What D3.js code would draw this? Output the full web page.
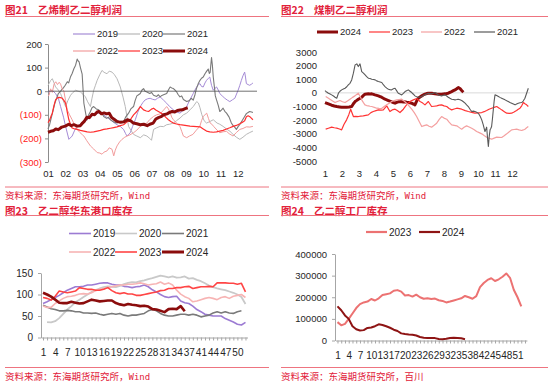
<!DOCTYPE html>
<html>
<head>
<meta charset="utf-8">
<script src="https://cdn.jsdelivr.net/npm/d3@7"></script>
<style>
  body { margin: 0; background: #fff; }
  svg { display: block; }
</style>
</head>
<body>
<svg width="550" height="388"></svg>
<script>
// 图21 乙烯制乙二醇利润: [月份位置, 利润]
let p1Months = ['01','02','03','04','05','06','07','08','09','10','11','12'];
let p1Ticks = [-300, -200, -100, 0, 100, 200];
let p1Years = ['2019','2020','2021','2022','2023','2024'];

let p1y2019 = [[1.0,-3],[1.25,4],[1.44,-10],[1.6,-30],[1.73,-65],[1.9,-110],[2.02,-149],[2.21,-204],[2.4,-190],[2.55,-165],[2.69,-149],[2.85,-140],[2.98,-135],[3.15,-128],[3.27,-121],[3.45,-110],[3.65,-100],[3.8,-96],[3.94,-93],[4.1,-97],[4.23,-100],[4.4,-110],[4.62,-121],[4.8,-132],[5.0,-142],[5.2,-150],[5.38,-162],[5.5,-180],[5.58,-190],[5.68,-182],[5.77,-176],[5.9,-150],[6.06,-121],[6.2,-90],[6.35,-65],[6.5,-48],[6.63,-37],[6.78,-32],[6.92,-30],[7.05,-34],[7.21,-37],[7.35,-30],[7.5,-24],[7.7,-38],[7.88,-51],[8.05,-65],[8.27,-79],[8.45,-88],[8.65,-93],[8.85,-80],[9.04,-65],[9.2,-40],[9.42,-10],[9.52,5],[9.62,18],[9.72,28],[9.81,32],[9.9,20],[10.0,18],[10.1,35],[10.19,46],[10.3,55],[10.38,60],[10.48,25],[10.58,4],[10.68,12],[10.77,18],[10.87,5],[10.96,-10],[11.1,-20],[11.25,-30],[11.4,-38],[11.54,-44],[11.7,-36],[11.83,-30],[11.93,-12],[12.02,4],[12.12,25],[12.21,46],[12.3,65],[12.4,81],[12.45,60],[12.5,32],[12.6,28],[12.69,25],[12.8,30],[12.88,35]];
let p1y2020 = [[1.0,25],[1.06,32],[1.15,45],[1.25,53],[1.35,35],[1.44,18],[1.6,5],[1.73,-10],[1.88,-40],[2.02,-65],[2.15,-40],[2.31,-17],[2.45,-5],[2.6,4],[2.75,0],[2.88,-3],[3.05,-15],[3.17,-24],[3.3,-45],[3.46,-65],[3.55,-30],[3.65,4],[3.75,25],[3.85,46],[4.0,70],[4.13,88],[4.25,80],[4.42,74],[4.55,85],[4.71,81],[4.85,70],[5.0,53],[5.1,35],[5.19,18],[5.35,-25],[5.48,-65],[5.58,-110],[5.67,-149],[5.8,-165],[5.96,-183],[6.15,-190],[6.35,-197],[6.55,-185],[6.73,-190],[6.9,-200],[7.0,-208],[7.12,-162],[7.3,-155],[7.5,-149],[7.7,-150],[7.88,-142],[8.05,-140],[8.27,-135],[8.45,-125],[8.65,-114],[8.85,-100],[9.04,-93],[9.23,-79],[9.42,-65],[9.62,-44],[9.72,-50],[9.81,-70],[9.92,-100],[10.05,-125],[10.19,-135],[10.4,-128],[10.58,-121],[10.8,-135],[10.96,-140],[11.15,-149],[11.35,-160],[11.55,-170],[11.73,-183],[11.92,-195],[12.12,-204],[12.3,-195],[12.5,-183],[12.7,-175],[12.88,-169]];
let p1y2021 = [[1.0,-160],[1.1,-140],[1.2,-110],[1.3,-80],[1.4,-50],[1.5,-30],[1.6,-10],[1.73,0],[1.9,15],[2.0,25],[2.12,40],[2.2,35],[2.3,60],[2.4,75],[2.5,95],[2.6,110],[2.69,136],[2.75,128],[2.8,125],[2.88,100],[2.98,72],[3.03,10],[3.08,-51],[3.15,-80],[3.2,-100],[3.27,-121],[3.36,-100],[3.46,-86],[3.55,-70],[3.65,-65],[3.8,-75],[3.94,-79],[4.1,-90],[4.23,-107],[4.4,-115],[4.5,-110],[4.62,-121],[4.8,-130],[5.0,-135],[5.2,-128],[5.38,-128],[5.5,-110],[5.67,-93],[5.8,-75],[5.96,-65],[6.05,-40],[6.15,-20],[6.25,-15],[6.35,-10],[6.45,5],[6.54,11],[6.63,0],[6.73,-3],[6.9,-10],[7.0,-5],[7.12,-17],[7.3,-22],[7.4,-15],[7.5,-24],[7.6,-18],[7.7,-15],[7.88,-10],[7.98,5],[8.08,18],[8.17,14],[8.27,11],[8.36,5],[8.46,-3],[8.55,-15],[8.65,-24],[8.75,-20],[8.85,-35],[9.04,-44],[9.2,-40],[9.3,-30],[9.42,-38],[9.52,-15],[9.6,10],[9.7,30],[9.81,46],[9.9,55],[10.0,60],[10.1,74],[10.2,85],[10.29,94],[10.35,75],[10.4,80],[10.45,120],[10.48,143],[10.53,110],[10.58,60],[10.65,15],[10.7,-20],[10.77,-37],[10.87,-60],[10.96,-86],[11.05,-80],[11.15,-72],[11.25,-85],[11.35,-93],[11.5,-110],[11.63,-135],[11.72,-145],[11.8,-150],[11.92,-162],[12.02,-150],[12.12,-141],[12.25,-125],[12.4,-107],[12.5,-95],[12.6,-90],[12.69,-86],[12.8,-88],[12.88,-90]];
let p1y2022 = [[1.0,-20],[1.06,-17],[1.15,10],[1.25,-5],[1.35,30],[1.45,40],[1.55,28],[1.65,38],[1.73,30],[1.82,10],[1.92,0],[2.02,-40],[2.12,-80],[2.25,-100],[2.4,-121],[2.55,-145],[2.69,-162],[2.85,-175],[3.0,-185],[3.08,-190],[3.25,-210],[3.46,-232],[3.65,-245],[3.85,-260],[4.0,-262],[4.13,-267],[4.25,-258],[4.42,-253],[4.55,-240],[4.71,-246],[4.81,-274],[4.9,-250],[5.0,-232],[5.15,-215],[5.29,-204],[5.45,-195],[5.58,-190],[5.75,-185],[5.96,-176],[6.15,-165],[6.35,-149],[6.55,-140],[6.73,-135],[6.9,-120],[7.12,-107],[7.3,-100],[7.5,-96],[7.7,-80],[7.88,-65],[7.98,-75],[8.08,-90],[8.17,-110],[8.27,-121],[8.45,-135],[8.65,-149],[8.75,-170],[8.85,-190],[9.04,-197],[9.2,-190],[9.4,-183],[9.6,-165],[9.8,-149],[9.9,-125],[10.0,-107],[10.1,-100],[10.2,-93],[10.3,-115],[10.4,-135],[10.5,-140],[10.6,-149],[10.8,-165],[10.96,-176],[11.15,-172],[11.35,-170],[11.5,-180],[11.73,-190],[11.92,-175],[12.12,-162],[12.3,-158],[12.5,-151],[12.7,-152],[12.88,-149]];
let p1y2023 = [[1.0,-133],[1.08,-125],[1.18,-105],[1.25,-93],[1.35,-60],[1.44,-37],[1.55,-28],[1.63,-26],[1.73,-27],[1.83,-30],[1.93,-40],[2.02,-51],[2.12,-90],[2.21,-121],[2.3,-140],[2.4,-156],[2.55,-160],[2.69,-162],[2.88,-166],[3.08,-169],[3.27,-172],[3.46,-174],[3.65,-172],[3.85,-169],[4.04,-166],[4.23,-162],[4.42,-160],[4.62,-157],[4.81,-154],[5.0,-151],[5.2,-146],[5.38,-142],[5.55,-132],[5.77,-121],[5.96,-100],[6.15,-86],[6.35,-65],[6.54,-79],[6.7,-84],[6.83,-86],[7.0,-76],[7.12,-72],[7.25,-80],[7.4,-86],[7.55,-92],[7.69,-100],[7.85,-112],[7.98,-121],[8.12,-128],[8.27,-135],[8.45,-139],[8.65,-142],[8.85,-144],[9.04,-146],[9.23,-148],[9.42,-149],[9.62,-150],[9.81,-151],[10.0,-160],[10.19,-169],[10.38,-172],[10.58,-174],[10.77,-172],[10.96,-169],[11.15,-166],[11.35,-160],[11.54,-155],[11.73,-149],[11.92,-145],[12.12,-138],[12.31,-130],[12.4,-125],[12.5,-108],[12.6,-104],[12.7,-108],[12.8,-115],[12.88,-121]];
let p1y2024 = [[1.0,-174],[1.15,-170],[1.3,-168],[1.45,-160],[1.6,-163],[1.8,-152],[2.0,-148],[2.2,-140],[2.35,-146],[2.5,-142],[2.7,-148],[2.88,-146],[3.0,-135],[3.1,-128],[3.25,-110],[3.4,-112],[3.55,-98],[3.7,-100],[3.85,-88],[3.95,-86],[4.1,-96],[4.25,-92],[4.4,-96],[4.55,-93],[4.7,-112],[4.85,-120],[5.0,-128],[5.2,-132],[5.4,-130],[5.6,-121],[5.8,-126],[5.95,-135],[6.15,-138],[6.35,-142],[6.55,-140],[6.75,-146],[6.9,-140],[7.1,-135],[7.25,-118],[7.4,-112],[7.55,-108],[7.7,-100],[7.9,-96],[8.05,-90],[8.2,-86],[8.35,-88],[8.5,-82],[8.65,-80],[8.8,-79],[8.95,-74],[9.1,-70]];

// 图22 煤制乙二醇利润: [月份位置, 利润]
let p2Months = ['1','2','3','4','5','6','7','8','9','10','11','12'];
let p2Ticks = [-5000, -4000, -3000, -2000, -1000, 0, 1000, 2000, 3000];
let p2Years = ['2024','2023','2022','2021'];

let p2y2024 = [[1.0,-709],[1.2,-807],[1.39,-905],[1.55,-960],[1.69,-1002],[1.85,-1030],[1.98,-1051],[2.15,-1060],[2.27,-1051],[2.42,-1040],[2.57,-1002],[2.67,-800],[2.77,-636],[2.87,-550],[2.96,-465],[3.06,-400],[3.16,-318],[3.25,-200],[3.35,-98],[3.45,-80],[3.55,-73],[3.65,-75],[3.75,-73],[3.85,-110],[3.94,-147],[4.04,-180],[4.14,-220],[4.24,-270],[4.33,-318],[4.43,-390],[4.53,-465],[4.63,-510],[4.73,-562],[4.82,-610],[4.92,-660],[5.02,-710],[5.12,-758],[5.22,-700],[5.31,-660],[5.41,-650],[5.51,-660],[5.61,-670],[5.71,-660],[5.8,-690],[5.9,-709],[6.0,-730],[6.1,-758],[6.2,-820],[6.29,-880],[6.39,-600],[6.49,-391],[6.59,-300],[6.69,-220],[6.78,-150],[6.88,-98],[6.98,-50],[7.08,-24],[7.18,-20],[7.27,-24],[7.37,-50],[7.47,-73],[7.57,-90],[7.67,-98],[7.76,-95],[7.86,-98],[7.96,-80],[8.06,-73],[8.16,-50],[8.25,-24],[8.35,40],[8.45,98],[8.55,160],[8.65,220],[8.75,300],[8.84,391],[8.94,318],[9.04,171],[9.14,49]];
let p2y2023 = [[1.04,-2665],[1.2,-2600],[1.39,-2518],[1.55,-2560],[1.69,-2592],[1.85,-2650],[1.98,-2714],[2.12,-2300],[2.27,-1980],[2.4,-1600],[2.51,-1198],[2.67,-1736],[2.8,-1720],[2.96,-1736],[3.1,-1700],[3.25,-1687],[3.4,-1650],[3.55,-1614],[3.7,-1450],[3.84,-1369],[4.0,-1300],[4.14,-1247],[4.3,-1260],[4.43,-1247],[4.63,-954],[4.82,-1369],[4.95,-1250],[5.12,-1198],[5.25,-1300],[5.41,-1443],[5.61,-1198],[5.75,-950],[5.9,-758],[6.05,-600],[6.2,-513],[6.39,-416],[6.59,-636],[6.75,-750],[6.88,-880],[7.08,-636],[7.27,-1002],[7.42,-980],[7.57,-954],[7.72,-900],[7.86,-880],[8.0,-950],[8.16,-1002],[8.3,-1150],[8.45,-1247],[8.6,-1180],[8.75,-1125],[8.9,-1160],[9.04,-1198],[9.25,-1300],[9.43,-1369],[9.63,-1430],[9.82,-1491],[10.02,-1470],[10.22,-1443],[10.36,-1380],[10.51,-1296],[10.65,-1200],[10.8,-1125],[10.95,-1060],[11.1,-1002],[11.25,-1120],[11.39,-1247],[11.55,-1380],[11.69,-1491],[11.84,-1500],[11.98,-1491],[12.12,-1400],[12.27,-1296],[12.37,-1200],[12.47,-1125],[12.57,-950],[12.67,-709],[12.76,-800],[12.86,-880],[12.96,-1002]];
let p2y2022 = [[1.04,-269],[1.16,-360],[1.29,-465],[1.45,-600],[1.59,-709],[1.73,-630],[1.88,-562],[2.03,-650],[2.18,-709],[2.32,-600],[2.47,-465],[2.62,-330],[2.76,-220],[2.86,-120],[2.96,-24],[3.06,-250],[3.16,-513],[3.25,-700],[3.35,-880],[3.45,-930],[3.55,-954],[3.65,-980],[3.75,-1002],[3.9,-1060],[4.04,-1125],[4.18,-1140],[4.33,-1149],[4.48,-1000],[4.63,-880],[4.78,-760],[4.92,-636],[5.07,-570],[5.22,-513],[5.36,-490],[5.51,-465],[5.65,-600],[5.8,-758],[5.95,-980],[6.1,-1198],[6.25,-1450],[6.39,-1736],[6.54,-2100],[6.69,-2469],[6.83,-2400],[6.98,-2347],[7.12,-2450],[7.27,-2518],[7.42,-2380],[7.57,-2225],[7.72,-1950],[7.86,-1736],[8.0,-1850],[8.16,-1932],[8.3,-2150],[8.45,-2347],[8.6,-2380],[8.75,-2421],[8.9,-2550],[9.04,-2665],[9.18,-2520],[9.33,-2421],[9.48,-2500],[9.63,-2592],[9.78,-2700],[9.92,-2836],[10.07,-2920],[10.22,-3007],[10.36,-3130],[10.51,-3252],[10.65,-3330],[10.8,-3399],[10.95,-3320],[11.1,-3252],[11.25,-3260],[11.39,-3276],[11.54,-3150],[11.69,-3007],[11.84,-2850],[11.98,-2714],[12.12,-2690],[12.27,-2665],[12.42,-2720],[12.57,-2763],[12.66,-2720],[12.76,-2665],[12.86,-2560],[12.96,-2469]];
let p2y2021 = [[1.0,171],[1.1,60],[1.2,-24],[1.3,-90],[1.39,-147],[1.5,-230],[1.59,-318],[1.69,-391],[1.79,-24],[1.88,120],[1.98,220],[2.08,280],[2.18,342],[2.28,450],[2.37,587],[2.47,700],[2.57,953],[2.67,1443],[2.77,2054],[2.87,2127],[2.96,1932],[3.06,2127],[3.16,1565],[3.26,1450],[3.36,1320],[3.45,1200],[3.55,1076],[3.65,1050],[3.75,1002],[3.85,980],[3.95,953],[4.04,880],[4.14,831],[4.24,800],[4.34,758],[4.43,600],[4.53,465],[4.63,350],[4.73,269],[4.82,240],[4.92,220],[5.02,300],[5.12,342],[5.22,150],[5.31,-24],[5.41,-90],[5.51,-147],[5.61,-30],[5.71,98],[5.8,160],[5.9,220],[6.0,120],[6.1,24],[6.2,-100],[6.29,-220],[6.39,-280],[6.49,-318],[6.59,-300],[6.69,-269],[6.78,-200],[6.88,-147],[6.98,-80],[7.08,-24],[7.18,-50],[7.27,-73],[7.37,-20],[7.47,24],[7.57,-60],[7.67,-147],[7.76,-190],[7.86,-220],[7.96,-180],[8.06,-147],[8.16,-230],[8.25,-318],[8.35,-400],[8.45,-465],[8.55,-490],[8.65,-513],[8.75,-490],[8.84,-465],[8.94,-510],[9.04,-562],[9.14,-650],[9.24,-758],[9.33,-880],[9.43,-1002],[9.53,-1200],[9.63,-1369],[9.73,-1340],[9.82,-1369],[9.92,-1430],[10.02,-1491],[10.12,-1700],[10.22,-1980],[10.31,-2347],[10.41,-2836],[10.51,-2518],[10.56,-3300],[10.61,-3936],[10.66,-3200],[10.71,-2714],[10.76,-2600],[10.8,-2469],[10.85,-1900],[10.9,-1247],[10.95,-600],[11.0,-147],[11.1,-200],[11.2,-269],[11.29,-330],[11.39,-391],[11.49,-450],[11.59,-513],[11.69,-580],[11.78,-636],[11.88,-700],[11.98,-758],[12.08,-820],[12.18,-880],[12.27,-820],[12.37,-758],[12.47,-730],[12.57,-709],[12.66,-600],[12.76,-391],[12.86,-24],[12.96,342]];

// 图23 乙二醇华东港口库存 (万吨), 按周
let p3Weeks = [1,2,3,4,5,6,7,8,9,10,11,12,13,14,15,16,17,18,19,20,21,22,23,24,25,26,27,28,29,30,31,32,33,34,35,36,37,39,40,41,42,43,44,45,46,47,48,49,50,51,52];
let p3Ticks = [0, 50, 100, 150];
let p3Years = ['2019','2020','2021','2022','2023','2024'];

let p3y2019 = [79,83,88,93,98,104,110,114,118,118,119,122,122,124,126,127,127,124,122,122,119,118,116,118,119,122,118,111,106,100,95,93,95,96,85,81,79,73,65,60,54,52,50,50,50,44,40,36,31,29,35];
let p3y2020 = [null,36,35,38,45,55,65,73,82,88,94,100,106,110,114,117,119,118,117,120,124,127,129,128,131,133,136,138,141,144,142,140,142,139,140,142,137,138,134,131,126,121,117,114,112,110,107,104,100,94,78];
let p3y2021 = [75,71,67,65,62,62,63,62,60,60,57,57,56,57,54,52,54,56,54,56,52,50,52,52,54,56,62,65,62,56,52,50,50,52,54,54,52,54,52,48,50,52,57,60,57,60,57,56,60,62,null];
let p3y2022 = [73,70,70,79,85,91,95,96,98,101,102,101,104,109,112,114,116,118,120,122,122,124,124,125,127,125,122,124,125,129,124,127,122,110,101,95,91,83,85,88,91,93,91,88,93,95,91,96,98,100,93];
let p3y2023 = [93,91,87,96,108,106,104,106,108,116,114,112,112,110,110,112,116,109,104,102,104,101,101,98,98,100,102,104,106,109,110,114,114,116,116,118,119,114,116,118,118,119,118,127,127,127,126,126,124,126,106];
let p3y2024 = [104,100,95,88,81,80,80,83,81,79,80,84,88,86,84,85,86,86,80,77,75,78,76,75,73,74,72,66,65,62,59,66,67,66,73,61];

// 图24 乙二醇工厂库存 (吨), 按周
let p4Weeks = [1,2,3,4,5,6,7,8,9,10,11,12,13,15,16,17,18,19,20,21,22,23,24,25,26,27,28,29,30,31,32,33,34,35,36,37,38,40,41,42,43,44,45,46,47,48,49,50,51,52,53];
let p4Ticks = [0, 100000, 200000, 300000, 400000];
let p4Years = ['2023','2024'];

let p4y2023 = [85000,70000,77000,100000,125000,150000,168000,176000,180000,192000,185000,195000,210000,214000,218000,230000,233000,226000,208000,210000,203000,212000,200000,193000,195000,192000,194000,186000,183000,176000,180000,185000,190000,195000,206000,200000,193000,205000,247000,266000,280000,288000,275000,283000,295000,310000,290000,235000,200000,158000];
let p4y2024 = [158000,140000,116000,100000,66000,52000,46000,48000,58000,60000,66000,75000,72000,66000,59000,50000,44000,33000,30000,28000,27000,23000,16000,13000,12000,12000,11000,7000,6000,8000,12000,13000,12000,10000,6000];

const red = '#e2213a';
const rule = '#ee7480';
const cjk = '"Noto Sans CJK SC", sans-serif';
const latin = '"Liberation Sans", Arial, sans-serif';

let svg = d3.select('svg');
svg.append('rect').attr('width', 550).attr('height', 388).attr('fill', '#fff');

// 标题 + 下划线
function header(x0, x1, y, ruleY, num, name) {
  svg.append('text')
    .attr('x', x0).attr('y', y)
    .attr('fill', red).attr('font-family', cjk).attr('font-weight', 'bold').attr('font-size', 10.5)
    .text(num);
  svg.append('text')
    .attr('x', x0 + 33).attr('y', y)
    .attr('fill', red).attr('font-family', cjk).attr('font-weight', 'bold').attr('font-size', 10.5)
    .text(name);
  svg.append('line')
    .attr('x1', x0).attr('x2', x1).attr('y1', ruleY).attr('y2', ruleY)
    .attr('stroke', rule).attr('stroke-width', 1);
}

// 资料来源
function footer(x0, x1, yRule, yText, who) {
  svg.append('line')
    .attr('x1', x0).attr('x2', x1).attr('y1', yRule).attr('y2', yRule)
    .attr('stroke', rule).attr('stroke-width', 1);
  let t = svg.append('text')
    .attr('x', x0).attr('y', yText)
    .attr('fill', red).attr('font-family', cjk).attr('font-size', 9.5);
  t.append('tspan').text('资料来源：东海期货研究所，');
  t.append('tspan')
    .attr('font-family', who === 'Wind' ? '"DejaVu Sans Mono", monospace' : cjk)
    .attr('font-size', who === 'Wind' ? 9 : 9.5)
    .text(who);
}

function legendItem(x, y, len, color, w, label, size) {
  svg.append('line')
    .attr('x1', x).attr('x2', x + len).attr('y1', y).attr('y2', y)
    .attr('stroke', color).attr('stroke-width', w);
  svg.append('text')
    .attr('x', x + len + 2).attr('y', y).attr('dy', '0.35em')
    .attr('font-family', latin).attr('font-size', size).attr('fill', '#262626')
    .text(label);
}

function styleAxis(g, size, color) {
  g.attr('font-family', latin).attr('font-size', size);
  g.selectAll('.tick text').attr('fill', color);
}

const plain = d => String(d);

// ---------------- 图21 ----------------
header(5, 269, 14, 16.5, '图21', '乙烯制乙二醇利润');

let p1x = d3.scaleLinear().domain([1, 13]).range([48, 255]);
let p1y = d3.scaleLinear().domain([-300, 200]).range([162, 44]);

let p1Colors = ['#a58bd6', '#b8b8b8', '#7a7a7a', '#f29c9c', '#ff2f2f', '#8b0c0c'];
let p1Widths = [1, 1, 1.1, 1, 1.2, 3];
let p1Series = [p1y2019, p1y2020, p1y2021, p1y2022, p1y2023, p1y2024];

let p1Left = svg.append('g')
  .attr('transform', 'translate(48,0)')
  .call(d3.axisLeft(p1y).tickValues(p1Ticks).tickSize(3).tickSizeOuter(0)
    .tickFormat(d => d < 0 ? `(${-d})` : String(d)));
styleAxis(p1Left, 9.5, '#262626');
p1Left.selectAll('.tick text').attr('fill', d => d < 0 ? '#ff2020' : '#262626');
p1Left.select('.domain').attr('stroke', '#8c8c8c');
p1Left.selectAll('.tick line').attr('stroke', '#8c8c8c');

let p1Bottom = svg.append('g')
  .attr('transform', 'translate(0,167.5)')
  .call(d3.axisBottom(p1x).tickValues(d3.range(1, 13)).tickSize(0)
    .tickFormat(d => p1Months[d - 1]));
p1Bottom.select('.domain').remove();
styleAxis(p1Bottom, 9.5, '#262626');

let p1Line = d3.line().x(d => p1x(d[0])).y(d => p1y(d[1]));
p1Series.forEach((s, i) => {
  svg.append('path')
    .attr('d', p1Line(s))
    .attr('fill', 'none')
    .attr('stroke', p1Colors[i])
    .attr('stroke-width', p1Widths[i])
    .attr('stroke-linejoin', 'round');
});

svg.append('line')
  .attr('x1', 48).attr('x2', 257).attr('y1', p1y(0)).attr('y2', p1y(0))
  .attr('stroke', '#4d4d4d').attr('stroke-width', 0.8);

[[73, 34], [118, 34], [163, 34], [73, 51], [118, 51], [163, 51]].forEach((p, i) => {
  legendItem(p[0], p[1], 22, p1Colors[i], i === 5 ? 3 : 1.2, p1Years[i], 9.5);
});

footer(5, 269, 187, 198.5, 'Wind');

// ---------------- 图22 ----------------
header(281, 548, 14, 16.5, '图22', '煤制乙二醇利润');

let p2x = d3.scaleLinear().domain([1, 13]).range([325, 529]);
let p2y = d3.scaleLinear().domain([-5000, 3000]).range([161, 52]);

let p2Colors = ['#8b0c0c', '#ff3434', '#f4a0a0', '#5a5a5a'];
let p2Widths = [3, 1.2, 1.2, 1.1];
let p2Series = [p2y2024, p2y2023, p2y2022, p2y2021];

let p2Left = svg.append('g')
  .attr('transform', 'translate(325,0)')
  .call(d3.axisLeft(p2y).tickValues(p2Ticks).tickSize(0).tickPadding(8).tickFormat(plain));
p2Left.select('.domain').remove();
styleAxis(p2Left, 9.5, '#262626');

let p2Bottom = svg.append('g')
  .attr('transform', 'translate(0,167.5)')
  .call(d3.axisBottom(p2x).tickValues(d3.range(1, 13)).tickSize(0)
    .tickFormat(d => p2Months[d - 1]));
p2Bottom.select('.domain').remove();
styleAxis(p2Bottom, 9.5, '#262626');

svg.append('line')
  .attr('x1', 325).attr('x2', 530).attr('y1', p2y(0)).attr('y2', p2y(0))
  .attr('stroke', '#d9d9d9').attr('stroke-width', 1);

let p2Line = d3.line().x(d => p2x(d[0])).y(d => p2y(d[1]));
p2Series.forEach((s, i) => {
  svg.append('path')
    .attr('d', p2Line(s))
    .attr('fill', 'none')
    .attr('stroke', p2Colors[i])
    .attr('stroke-width', p2Widths[i])
    .attr('stroke-linejoin', 'round');
});

[317, 369, 421, 474].forEach((x, i) => {
  legendItem(x, 32, 21, p2Colors[i], i === 0 ? 3 : 1.2, p2Years[i], 9.5);
});

footer(281, 548, 187, 198.5, 'Wind');

// ---------------- 图23 ----------------
header(5, 269, 214.5, 215.5, '图23', '乙二醇华东港口库存');

let p3x = d3.scalePoint().domain(p3Weeks).range([41, 247.5]).padding(0.5);
let p3y = d3.scaleLinear().domain([0, 150]).range([337.5, 273]);

let p3Colors = ['#9c7bd3', '#c9c9c9', '#7a7a7a', '#f7b4b4', '#ff4545', '#8b0c0c'];
let p3Widths = [1.6, 1.8, 1.6, 1.6, 1.6, 2.6];
let p3Series = [p3y2019, p3y2020, p3y2021, p3y2022, p3y2023, p3y2024];

let p3Left = svg.append('g')
  .attr('transform', 'translate(41,0)')
  .call(d3.axisLeft(p3y).tickValues(p3Ticks).tickSize(3).tickPadding(5).tickSizeOuter(0).tickFormat(plain));
styleAxis(p3Left, 10, '#262626');
p3Left.select('.domain').attr('stroke', '#a6a6a6');
p3Left.selectAll('.tick line').attr('stroke', '#a6a6a6');

let p3Bottom = svg.append('g')
  .attr('transform', 'translate(0,337.5)')
  .call(d3.axisBottom(p3x).tickSize(3).tickPadding(8).tickSizeOuter(0)
    .tickFormat((d, i) => i % 3 === 0 ? d : ''));
styleAxis(p3Bottom, 10, '#262626');
p3Bottom.select('.domain').attr('stroke', '#a6a6a6');
p3Bottom.selectAll('.tick line').attr('stroke', '#a6a6a6');

let p3Line = d3.line()
  .defined(d => d != null)
  .x((d, i) => p3x(p3Weeks[i]))
  .y(d => p3y(d));
p3Series.forEach((s, i) => {
  svg.append('path')
    .attr('d', p3Line(s))
    .attr('fill', 'none')
    .attr('stroke', p3Colors[i])
    .attr('stroke-width', p3Widths[i])
    .attr('stroke-linejoin', 'round');
});

[[69, 233.5], [115, 233.5], [162, 233.5], [69, 252], [115, 252], [162, 252]].forEach((p, i) => {
  legendItem(p[0], p[1], 22, p3Colors[i], i === 5 ? 3 : 1.6, p3Years[i], 10);
});

footer(5, 269, 367.5, 380, 'Wind');

// ---------------- 图24 ----------------
header(281, 548, 214.5, 215.5, '图24', '乙二醇工厂库存');

let p4x = d3.scalePoint().domain(p4Weeks).range([335.6, 526.9]).padding(0.5);
let p4y = d3.scaleLinear().domain([0, 400000]).range([340.5, 254]);

let p4Colors = ['#ec7272', '#8e1414'];
let p4Series = [p4y2023, p4y2024];

let p4Left = svg.append('g')
  .attr('transform', 'translate(335,0)')
  .call(d3.axisLeft(p4y).tickValues(p4Ticks).tickSize(3).tickPadding(5).tickSizeOuter(0).tickFormat(plain));
styleAxis(p4Left, 9.5, '#262626');
p4Left.select('.domain').attr('stroke', '#a6a6a6');
p4Left.selectAll('.tick line').attr('stroke', '#a6a6a6');

let p4Bottom = svg.append('g')
  .attr('transform', 'translate(0,340.5)')
  .call(d3.axisBottom(p4x).tickSize(3).tickPadding(8.5).tickSizeOuter(0)
    .tickFormat((d, i) => i % 3 === 0 ? d : ''));
styleAxis(p4Bottom, 10, '#262626');
p4Bottom.select('.domain').attr('stroke', '#a6a6a6');
p4Bottom.selectAll('.tick line').attr('stroke', '#a6a6a6');

let p4Line = d3.line()
  .x((d, i) => p4x(p4Weeks[i]))
  .y(d => p4y(d));
p4Series.forEach((s, i) => {
  svg.append('path')
    .attr('d', p4Line(s))
    .attr('fill', 'none')
    .attr('stroke', p4Colors[i])
    .attr('stroke-width', 2)
    .attr('stroke-linejoin', 'round');
});

[366, 419].forEach((x, i) => {
  legendItem(x, 232, 21, p4Colors[i], 2.2, p4Years[i], 10);
});

footer(281, 548, 367.5, 380, '百川');
</script>
</body>
</html>
